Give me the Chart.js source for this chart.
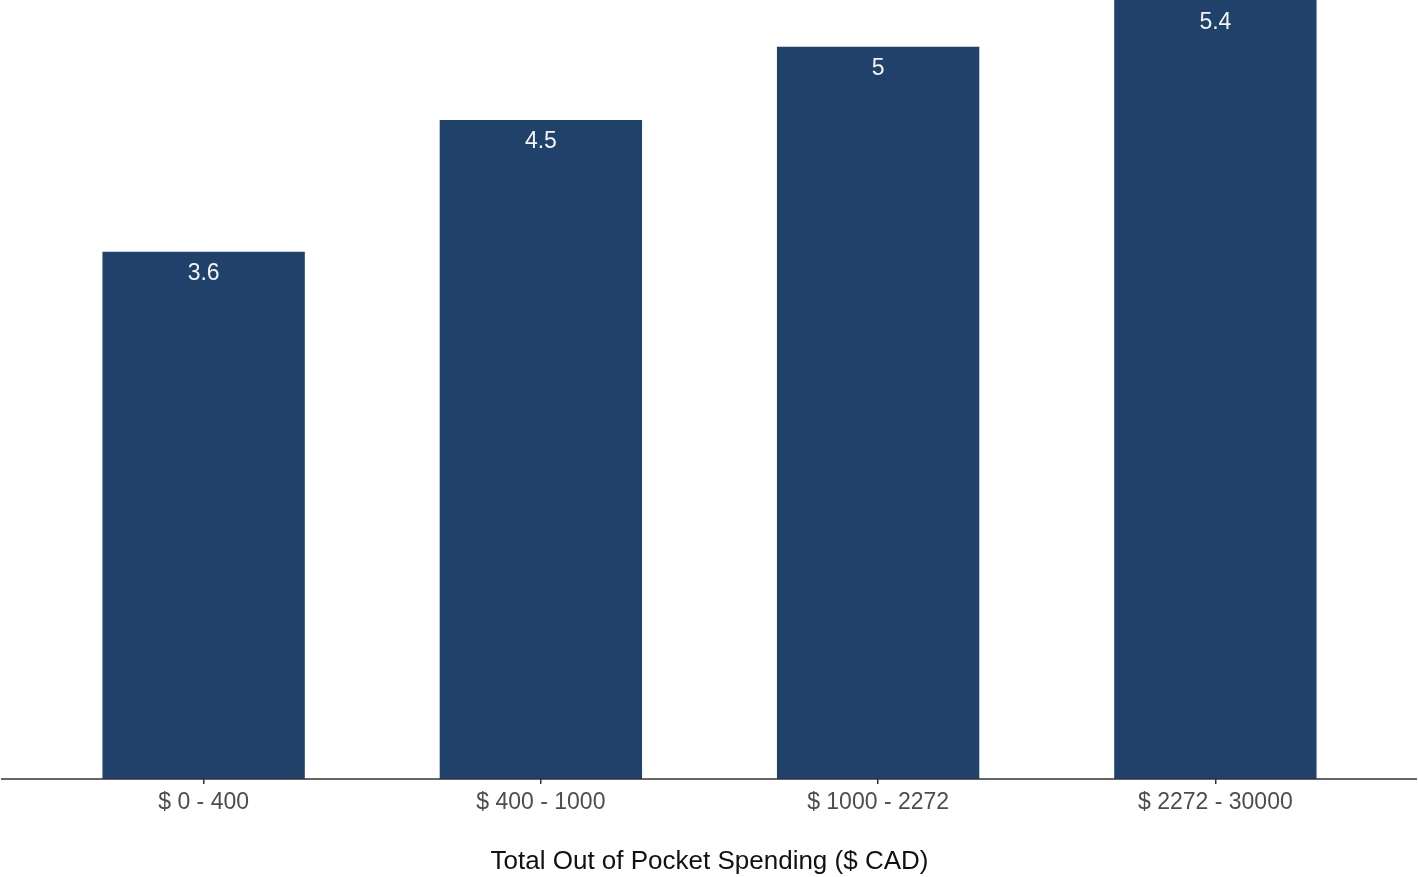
<!DOCTYPE html>
<html>
<head>
<meta charset="utf-8">
<script src="https://cdn.jsdelivr.net/npm/chart.js@4/dist/chart.umd.min.js"></script>
<style>
html,body{margin:0;padding:0;background:#fff;}
#wrap{width:1418px;height:877px;position:relative;}
</style>
</head>
<body>
<div id="wrap"><canvas id="c" width="1418" height="877"></canvas></div>
<script>
const categories = ["$ 0 - 400", "$ 400 - 1000", "$ 1000 - 2272", "$ 2272 - 30000"];
const values = [3.6, 4.5, 5.0, 5.4];
const valueLabels = ["3.6", "4.5", "5", "5.4"];
const xTitle = "Total Out of Pocket Spending ($ CAD)";

const FONT = "'Liberation Sans', Arial, sans-serif";

const barLabels = {
  id: 'barLabels',
  afterDatasetsDraw(chart) {
    const ctx = chart.ctx;
    const meta = chart.getDatasetMeta(0);
    ctx.save();
    ctx.fillStyle = '#f4f4f4';
    ctx.font = '23px ' + FONT;
    ctx.textAlign = 'center';
    ctx.textBaseline = 'middle';
    meta.data.forEach((bar, i) => {
      const top = Math.max(bar.y, chart.chartArea.top + 1);
      ctx.fillText(valueLabels[i], bar.x, top + 22);
    });
    ctx.restore();
  }
};

const baseline = {
  id: 'baseline',
  afterDatasetsDraw(chart) {
    const ctx = chart.ctx;
    const y = chart.chartArea.bottom;
    ctx.save();
    ctx.strokeStyle = '#333333';
    ctx.lineWidth = 1.5;
    ctx.beginPath();
    ctx.moveTo(1, y);
    ctx.lineTo(chart.width - 1, y);
    ctx.stroke();
    ctx.restore();
  }
};

new Chart(document.getElementById('c'), {
  type: 'bar',
  data: {
    labels: categories,
    datasets: [{
      data: values,
      backgroundColor: '#1f416a',
      borderWidth: 0,
      barPercentage: 0.6,
      categoryPercentage: 1.0
    }]
  },
  options: {
    responsive: false,
    animation: false,
    devicePixelRatio: 1,
    layout: { padding: { left: 35, right: 34, top: 0, bottom: 0 } },
    plugins: { legend: { display: false }, tooltip: { enabled: false } },
    scales: {
      y: { display: false, min: 0, max: 5.32 },
      x: {
        offset: true,
        border: { display: false },
        grid: { offset: false, drawOnChartArea: false, drawTicks: true, tickLength: 5, color: '#333333', lineWidth: 1.5 },
        ticks: { color: '#4d4d4d', font: { family: FONT, size: 23 }, padding: 5 },
        title: { display: true, text: xTitle, color: '#111111', font: { family: FONT, size: 26 }, padding: { top: 0, bottom: 0 } },
        afterFit(scale) { scale.height = 98; }
      }
    }
  },
  plugins: [baseline, barLabels]
});
</script>
</body>
</html>
